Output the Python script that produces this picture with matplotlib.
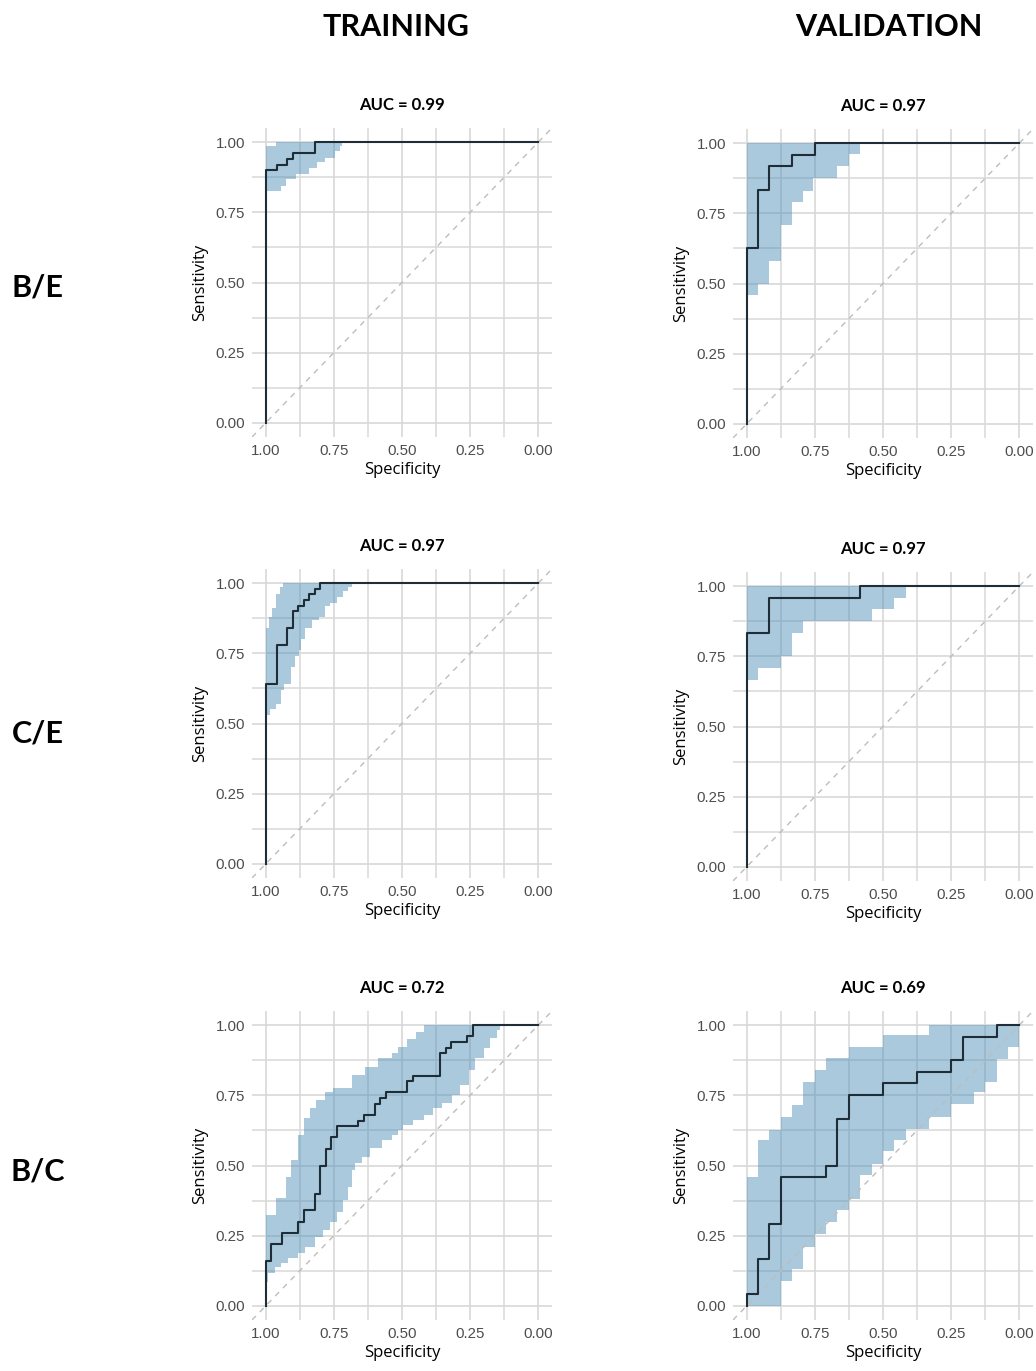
import numpy as np
import matplotlib
matplotlib.use('Agg')
import matplotlib.pyplot as plt

# ---- data (specificity, sensitivity) ----
# B/E training
be_tr_spec = [1.0, 1.0, 0.96, 0.92, 0.90, 0.82, 0.0]
be_tr_sens = [0.0, 0.90, 0.92, 0.94, 0.96, 1.0, 1.0]
be_tr_up_spec = [1.0, 0.963]
be_tr_up = [0.986, 1.0]
be_tr_lo_spec = [1.0, 0.942, 0.926, 0.887, 0.840, 0.813, 0.783, 0.746, 0.728, 0.719]
be_tr_lo = [0.826, 0.844, 0.867, 0.885, 0.906, 0.930, 0.944, 0.968, 0.985, 1.0]

# B/E validation
be_va_spec = [1.0, 1.0, 0.958, 0.917, 0.833, 0.75, 0.0]
be_va_sens = [0.0, 0.625, 0.833, 0.917, 0.958, 1.0, 1.0]
be_va_up_spec = [1.0]
be_va_up = [1.0]
be_va_lo_spec = [1.0, 0.958, 0.917, 0.875, 0.833, 0.792, 0.758, 0.667, 0.625, 0.583]
be_va_lo = [0.46, 0.50, 0.58, 0.71, 0.79, 0.83, 0.875, 0.92, 0.96, 1.0]

# C/E training
ce_tr_spec = [1.0, 1.0, 0.96, 0.92, 0.90, 0.88, 0.86, 0.84, 0.82, 0.80, 0.0]
ce_tr_sens = [0.0, 0.64, 0.78, 0.84, 0.90, 0.92, 0.94, 0.96, 0.98, 1.0, 1.0]
ce_tr_up_spec = [1.0, 0.988, 0.975, 0.961, 0.948, 0.936]
ce_tr_up = [0.84, 0.88, 0.91, 0.96, 0.985, 1.0]
ce_tr_lo_spec = [1.0, 0.985, 0.961, 0.945, 0.933, 0.908, 0.893, 0.879, 0.869, 0.856,
                 0.831, 0.804, 0.783, 0.764, 0.740, 0.715, 0.697, 0.685]
ce_tr_lo = [0.53, 0.55, 0.57, 0.62, 0.64, 0.70, 0.74, 0.76, 0.80, 0.84,
            0.87, 0.88, 0.92, 0.93, 0.95, 0.97, 0.985, 1.0]

# C/E validation
ce_va_spec = [1.0, 1.0, 0.917, 0.583, 0.0]
ce_va_sens = [0.0, 0.833, 0.958, 1.0, 1.0]
ce_va_up_spec = [1.0]
ce_va_up = [1.0]
ce_va_lo_spec = [1.0, 0.958, 0.875, 0.833, 0.792, 0.542, 0.458, 0.417]
ce_va_lo = [0.667, 0.708, 0.75, 0.833, 0.875, 0.917, 0.958, 1.0]

# B/C training
bc_tr_spec = [1.0, 1.0, 0.98, 0.94, 0.88, 0.86, 0.82, 0.80, 0.78, 0.76, 0.74, 0.66,
              0.64, 0.60, 0.58, 0.56, 0.48, 0.46, 0.36, 0.34, 0.32, 0.26, 0.24, 0.0]
bc_tr_sens = [0.0, 0.16, 0.22, 0.26, 0.30, 0.34, 0.40, 0.50, 0.56, 0.60, 0.64, 0.66,
              0.68, 0.72, 0.74, 0.76, 0.80, 0.82, 0.90, 0.92, 0.94, 0.96, 1.0, 1.0]
bc_tr_up_spec = [1.0, 0.961, 0.924, 0.906, 0.881, 0.859, 0.838, 0.814, 0.783, 0.753,
                 0.685, 0.636, 0.587, 0.538, 0.514, 0.48, 0.45, 0.42]
bc_tr_up = [0.324, 0.383, 0.46, 0.52, 0.608, 0.668, 0.704, 0.733, 0.763, 0.775,
            0.822, 0.852, 0.881, 0.899, 0.923, 0.95, 0.975, 1.0]
bc_tr_lo_spec = [1.0, 0.991, 0.967, 0.942, 0.918, 0.881, 0.857, 0.820, 0.789, 0.765,
                 0.740, 0.716, 0.697, 0.685, 0.673, 0.648, 0.618, 0.575, 0.538, 0.514,
                 0.495, 0.458, 0.421, 0.385, 0.354, 0.317, 0.287, 0.256, 0.232, 0.201,
                 0.176, 0.152, 0.140]
bc_tr_lo = [0.087, 0.116, 0.140, 0.152, 0.170, 0.188, 0.211, 0.247, 0.270, 0.300,
            0.336, 0.377, 0.425, 0.484, 0.508, 0.531, 0.561, 0.591, 0.609, 0.626,
            0.644, 0.662, 0.680, 0.703, 0.721, 0.751, 0.786, 0.840, 0.881, 0.917,
            0.953, 0.982, 1.0]

# B/C validation
bc_va_spec = [1.0, 1.0, 0.958, 0.917, 0.875, 0.708, 0.667, 0.625, 0.5, 0.375,
              0.25, 0.208, 0.083, 0.0]
bc_va_sens = [0.0, 0.042, 0.167, 0.292, 0.458, 0.5, 0.667, 0.75, 0.792, 0.833,
              0.875, 0.958, 1.0, 1.0]
bc_va_up_spec = [1.0, 0.958, 0.917, 0.875, 0.833, 0.792, 0.75, 0.708, 0.625, 0.5, 0.333]
bc_va_up = [0.46, 0.591, 0.626, 0.674, 0.715, 0.798, 0.840, 0.881, 0.923, 0.964, 1.0]
bc_va_lo_spec = [1.0, 0.875, 0.833, 0.792, 0.75, 0.708, 0.667, 0.625, 0.583, 0.542,
                 0.5, 0.458, 0.417, 0.333, 0.25, 0.167, 0.125, 0.083, 0.042]
bc_va_lo = [0.0, 0.09, 0.13, 0.21, 0.255, 0.30, 0.34, 0.38, 0.465, 0.505,
            0.55, 0.59, 0.63, 0.672, 0.718, 0.762, 0.798, 0.88, 0.922]

auc_labels = [['AUC = 0.99', 'AUC = 0.97'],
              ['AUC = 0.97', 'AUC = 0.97'],
              ['AUC = 0.72', 'AUC = 0.69']]
row_names = ['B/E', 'C/E', 'B/C']
col_names = ['TRAINING', 'VALIDATION']

panels = [
    [(be_tr_spec, be_tr_sens, be_tr_up_spec, be_tr_up, be_tr_lo_spec, be_tr_lo),
     (be_va_spec, be_va_sens, be_va_up_spec, be_va_up, be_va_lo_spec, be_va_lo)],
    [(ce_tr_spec, ce_tr_sens, ce_tr_up_spec, ce_tr_up, ce_tr_lo_spec, ce_tr_lo),
     (ce_va_spec, ce_va_sens, ce_va_up_spec, ce_va_up, ce_va_lo_spec, ce_va_lo)],
    [(bc_tr_spec, bc_tr_sens, bc_tr_up_spec, bc_tr_up, bc_tr_lo_spec, bc_tr_lo),
     (bc_va_spec, bc_va_sens, bc_va_up_spec, bc_va_up, bc_va_lo_spec, bc_va_lo)],
]

W, H = 1036, 1371
# axes boxes in pixels: left, top, width, height
boxes = [[(252, 128), (733, 129)],
         [(252, 569), (733, 572)],
         [(252, 1011), (733, 1011)]]
AW, AH = 300, 309

GRID = '#d8d8d8'
FILL = '#4f8fb7'
LINE = '#1e2d38'
TICK = '#4d4d4d'


def step_path(x, y):
    # steps-post vertices, then run on to specificity 0
    xs = list(np.repeat(x, 2)[1:]) + [0.0]
    ys = list(np.repeat(y, 2)[:-1]) + [y[-1]]
    return xs, ys


fig = plt.figure(figsize=(W / 100, H / 100), dpi=100)

for r in range(3):
    for c in range(2):
        spec, sens, up_s, up, lo_s, lo = panels[r][c]
        left, top = boxes[r][c]
        ax = fig.add_axes([left / W, 1 - (top + AH) / H, AW / W, AH / H])
        ax.set_xlim(1.05, -0.05)
        ax.set_ylim(-0.05, 1.05)

        ax.set_xticks([1.0, 0.75, 0.5, 0.25, 0.0])
        ax.set_yticks([0.0, 0.25, 0.5, 0.75, 1.0])
        ax.set_xticks([0.875, 0.625, 0.375, 0.125], minor=True)
        ax.set_yticks([0.125, 0.375, 0.625, 0.875], minor=True)
        ax.grid(True, which='major', color=GRID, lw=1.2)
        ax.grid(True, which='minor', color=GRID, lw=1.1)
        ax.set_axisbelow(True)
        ax.tick_params(which='both', length=0)
        ax.tick_params(labelsize=10.8, labelcolor=TICK, pad=5)
        for lab in ax.get_xticklabels() + ax.get_yticklabels():
            lab.set_family('Liberation Sans')
        for s in ax.spines.values():
            s.set_visible(False)

        # confidence band
        ux, uy = step_path(up_s, up)
        lx, ly = step_path(lo_s, lo)
        ax.fill(ux + lx[::-1], uy + ly[::-1], color=FILL, alpha=0.48, lw=0, zorder=2)

        # chance line
        ax.plot([1.05, -0.05], [-0.05, 1.05], color='#bdbdbd', lw=1.0,
                ls=(0, (4, 4)), zorder=3)

        # ROC curve
        ax.plot(spec, sens, drawstyle='steps-post', color=LINE, lw=1.5, zorder=4)

        ax.set_title(auc_labels[r][c], fontsize=12, fontweight='bold',
                     family='Lato', pad=13)
        ax.set_xlabel('Specificity', fontsize=12, family='Open Sans', labelpad=3)
        ax.set_ylabel('Sensitivity', fontsize=12, family='Open Sans', labelpad=5)

# column headers and row labels
for x, name in zip([396, 889], col_names):
    fig.text(x / W, 1 - 27 / H, name, ha='center', va='center',
             fontsize=22, fontweight='bold', family='Lato')
for y, name in zip([288, 733, 1171], row_names):
    fig.text(38 / W, 1 - y / H, name, ha='center', va='center',
             fontsize=22, fontweight='bold', family='Lato')

plt.savefig('out.png', dpi=100)
